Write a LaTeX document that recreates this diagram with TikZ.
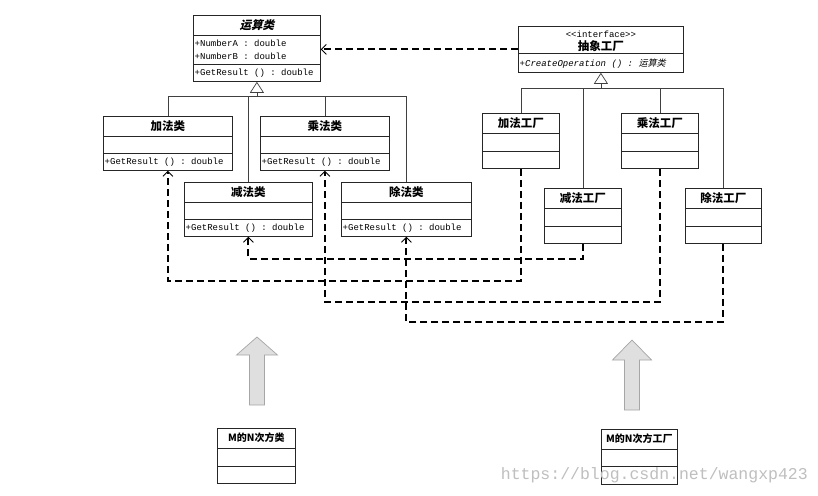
\documentclass[tikz,border=0pt]{standalone}
\usepackage{fontspec}
\setmainfont{Liberation Serif}
\setmonofont{Liberation Mono}
\newfontfamily\cjk{Noto Sans CJK SC}
\newfontfamily\cjksl[FakeSlant=0.25]{Noto Sans CJK SC}
\usetikzlibrary{arrows.meta,calc}
\tikzset{
 box/.style={draw=black!85, line width=0.8pt, fill=white, inner sep=0pt, anchor=north west},
 ttl/.style={font=\cjk\bfseries\fontsize{11.5}{12}\selectfont, inner sep=0pt, text=black},
 ttlsm/.style={font=\cjk\bfseries\fontsize{10}{11}\selectfont, inner sep=0pt, text=black},
 op/.style={font=\ttfamily\fontsize{9}{10}\selectfont, inner sep=0pt, anchor=west},
 sepl/.style={draw=black!85, line width=0.7pt},
 inh/.style={draw=black!75, line width=0.6pt},
 dep/.style={draw=black, line width=1.9pt, dash pattern=on 7pt off 4pt,
   -{Straight Barb[length=5pt,width=10pt,line width=0.8pt]}},
 bigarrow/.style={draw=gray!70, fill=gray!25, line width=0.7pt},
}
\newcommand\umlbox[5]{\node[box, minimum width={#4pt-#2pt}, minimum height={#5pt-#3pt}] (#1) at (#2,#3) {};}
\newcommand\sepline[2]{\draw[sepl] ([yshift=-#2pt]#1.north west) -- ([yshift=-#2pt]#1.north east);}
\begin{document}
\begin{tikzpicture}[x=1pt,y=-1pt]
\fill[white] (0,0) rectangle (818,495);
\useasboundingbox (0,0) rectangle (818,495);

% ---------- abstract product ----------
\umlbox{yun}{193}{15}{320}{81}
\sepline{yun}{20}\sepline{yun}{49}
\node[ttl, font=\cjksl\bfseries\fontsize{11.5}{12}\selectfont] (yun-t) at ([yshift=-10pt]yun.north) {运算类};
\node[op] (yun-a) at ([yshift=-28pt,xshift=1.5pt]yun.north west) {+NumberA : double};
\node[op] (yun-b) at ([yshift=-41.5pt,xshift=1.5pt]yun.north west) {+NumberB : double};
\node[op] (yun-o) at ([yshift=8.5pt,xshift=1.5pt]yun.south west) {+GetResult () : double};

% ---------- concrete products ----------
\umlbox{jia}{103}{116}{232}{170}
\umlbox{cheng}{260}{116}{389}{170}
\umlbox{jian}{184}{182}{312}{236}
\umlbox{chu}{341}{182}{471}{236}
\foreach \n/\t in {jia/加法类, cheng/乘法类, jian/减法类, chu/除法类}{
  \sepline{\n}{20}\sepline{\n}{37}
  \node[ttl] (\n-t) at ([yshift=-10pt]\n.north) {\t};
  \node[op] (\n-o) at ([yshift=8.5pt,xshift=1.5pt]\n.south west) {+GetResult () : double};
}

% ---------- abstract factory ----------
\umlbox{iface}{518}{26}{683}{72}
\sepline{iface}{27}
\node[op, anchor=center] (iface-s) at ([yshift=-8pt]iface.north) {<<interface>>};
\node[ttl] (iface-t) at ([yshift=-20pt]iface.north) {抽象工厂};
\node[op] (iface-o) at ([yshift=9.5pt,xshift=1.5pt]iface.south west)
  {{\itshape +CreateOperation () : }{\cjksl 运算类}};

% ---------- concrete factories ----------
\umlbox{jiaF}{482}{113}{559}{168}
\umlbox{chengF}{621}{113}{698}{168}
\umlbox{jianF}{544}{188}{621}{243}
\umlbox{chuF}{685}{188}{761}{243}
\foreach \n/\t in {jiaF/加法工厂, chengF/乘法工厂, jianF/减法工厂, chuF/除法工厂}{
  \sepline{\n}{20}\sepline{\n}{38}
  \node[ttl] (\n-t) at ([yshift=-10pt]\n.north) {\t};
}

% ---------- inheritance ----------
\coordinate (cbar) at (0,96);
\draw[inh] (jia.north) -- (jia.north |- cbar) -- (chu.north |- cbar) -- (chu.north);
\draw[inh] (jian.north) -- (jian.north |- cbar);
\draw[inh] (cheng.north) -- (cheng.north |- cbar);
\draw[inh, -{Triangle[open, length=11pt, width=14pt, line width=0.7pt]}] (yun.south |- cbar) -- (yun.south);

\coordinate (fbar) at (0,88);
\draw[inh] (jiaF.north) -- (jiaF.north |- fbar) -- (chuF.north |- fbar) -- (chuF.north);
\draw[inh] (jianF.north) -- (jianF.north |- fbar);
\draw[inh] (chengF.north) -- (chengF.north |- fbar);
\draw[inh, -{Triangle[open, length=11pt, width=14pt, line width=0.7pt]}] (iface.south |- fbar) -- (iface.south);

% ---------- dependencies ----------
\draw[dep] (iface.west) -- (iface.west -| yun.east);
\draw[dep] (jianF.south) -- ++(0,15) -| (jian.south);
\draw[dep] (jiaF.south) -- ++(0,112) -| (jia.south);
\draw[dep] (chengF.south) -- ++(0,133) -| (cheng.south);
\draw[dep] (chuF.south) -- ++(0,78) -| (chu.south);

% ---------- extension boxes ----------
\umlbox{mnC}{217}{428}{295}{483}
\umlbox{mnF}{601}{429}{677}{484}
\sepline{mnC}{20}\sepline{mnC}{38}
\sepline{mnF}{20}\sepline{mnF}{37}
\node[ttlsm] (mnC-t) at ([yshift=-10pt]mnC.north) {M的N次方类};
\node[ttlsm] (mnF-t) at ([yshift=-10pt]mnF.north) {M的N次方工厂};

% ---------- big arrows ----------
\draw[bigarrow] (257,337) -- (277.5,355) -- (264.5,355) -- (264.5,405) -- (249.5,405)
  -- (249.5,355) -- (236.5,355) -- cycle;
\draw[bigarrow] (632,340) -- (651.5,360) -- (639.5,360) -- (639.5,410) -- (624.5,410)
  -- (624.5,360) -- (612.5,360) -- cycle;

% ---------- watermark ----------
\node[font=\ttfamily\fontsize{16.5}{18}\selectfont, text=gray!50, inner sep=0pt, anchor=base east]
  (wm) at (808,479) {https://blog.csdn.net/wangxp423};
\end{tikzpicture}
\end{document}
